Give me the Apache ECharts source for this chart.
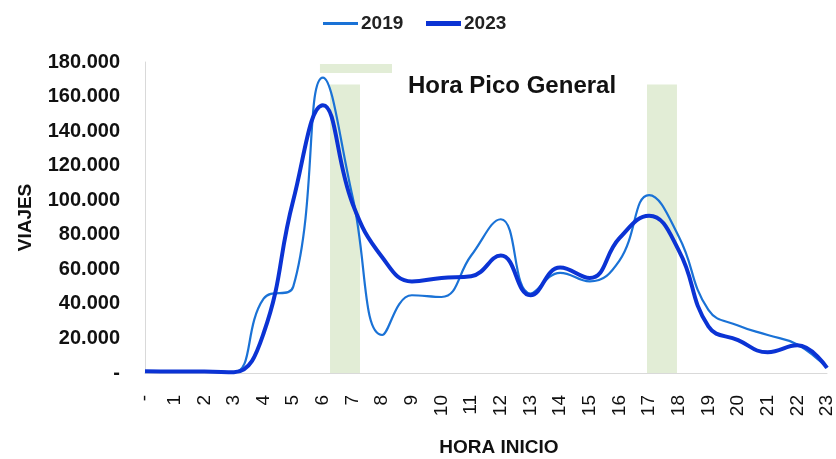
<!DOCTYPE html>
<html lang="es">
<head>
<meta charset="UTF-8">
<title>Viajes por hora</title>
<script src="https://cdn.jsdelivr.net/npm/echarts@6/dist/echarts.min.js"></script>
<style>
  html, body { margin: 0; padding: 0; background: #fff; }
  #main { width: 836px; height: 459px; }
</style>
</head>
<body>
<div id="main"></div>
<script>
// horas 0..23 (la hora 0 se muestra como "-")
var horas = ['0','1','2','3','4','5','6','7','8','9','10','11','12','13','14','15','16','17','18','19','20','21','22','23'];
var viajes2019 = [1000, 1000, 1000, 500, 43000, 50000, 171000, 102000, 22000, 45000, 44000, 68000, 89000, 46000, 58000, 53000, 65000, 103000, 79000, 36500, 27500, 22000, 16500, 3000];
var viajes2023 = [1000, 800, 800, 500, 23000, 100000, 155000, 98000, 67000, 53000, 55000, 56000, 68000, 45000, 61000, 55000, 78000, 91000, 71000, 27000, 19000, 12000, 16000, 3000];
// franjas de hora pico: [desde, hasta, base, techo] en horas / viajes
var franjas = [[6.24, 7.25, 0, 167000], [16.93, 17.94, 0, 167000], [5.9, 8.33, 173600, 178800]];

var fuente = 'Liberation Sans, Arial, sans-serif';
var azul19 = '#1a72d6';
var azul23 = '#0b33d4';
function miles(v) {
  if (v === 0) return '-';
  return String(v).replace(/\B(?=(\d{3})+(?!\d))/g, '.');
}
var textoLeyenda = { fontFamily: fuente, fontSize: 19, fontWeight: 'bold', color: '#222', padding: [0, 0, 0, -2] };

var chart = echarts.init(document.getElementById('main'));
chart.setOption({
  animation: false,
  textStyle: { fontFamily: fuente },
  title: {
    text: 'Hora Pico General',
    left: 403, top: 69,
    textStyle: { fontFamily: fuente, fontSize: 24, fontWeight: 'bold', color: '#111' }
  },
  legend: [{
    top: 9, left: 318,
    icon: 'rect', itemWidth: 35, itemHeight: 3,
    textStyle: textoLeyenda,
    data: ['2019']
  }, {
    top: 9, left: 421,
    icon: 'rect', itemWidth: 35, itemHeight: 5,
    textStyle: textoLeyenda,
    data: ['2023']
  }],
  grid: { left: 145, right: 9, top: 62, bottom: 86, outerBoundsMode: 'none' },
  xAxis: [{
    type: 'category',
    data: horas,
    boundaryGap: false,
    name: 'HORA INICIO',
    nameLocation: 'middle',
    nameGap: 65,
    nameTextStyle: { fontFamily: fuente, fontSize: 19, fontWeight: 'bold', color: '#111', padding: [0, 0, 0, 26] },
    axisLine: { lineStyle: { color: '#d9d9d9', width: 1 } },
    axisTick: { show: false },
    axisLabel: {
      rotate: 90, margin: 22, interval: 0,
      fontSize: 19, color: '#111',
      formatter: function (v) { return v === '0' ? '-' : v; }
    }
  }, {
    type: 'value', min: 0, max: 23, show: false
  }],
  yAxis: {
    type: 'value',
    min: 0, max: 180000, interval: 20000,
    name: 'VIAJES',
    nameLocation: 'middle',
    nameGap: 110,
    nameTextStyle: { fontFamily: fuente, fontSize: 19, fontWeight: 'bold', color: '#111' },
    axisLine: { show: true, lineStyle: { color: '#d9d9d9', width: 1 } },
    axisTick: { show: false },
    splitLine: { show: false },
    axisLabel: {
      margin: 25, fontSize: 20, fontWeight: 'bold', color: '#111',
      formatter: miles
    }
  },
  series: [{
    type: 'custom',
    xAxisIndex: 1,
    silent: true,
    z: 0,
    data: franjas,
    renderItem: function (params, api) {
      var p0 = api.coord([api.value(0), api.value(3)]);
      var p1 = api.coord([api.value(1), api.value(2)]);
      return {
        type: 'rect',
        shape: { x: p0[0], y: p0[1], width: p1[0] - p0[0], height: p1[1] - p0[1] },
        style: { fill: '#e2edd6' }
      };
    }
  }, {
    name: '2019',
    type: 'line',
    data: viajes2019,
    smooth: 0.45,
    symbol: 'none',
    z: 3,
    itemStyle: { color: azul19 },
    lineStyle: { color: azul19, width: 2.2 }
  }, {
    name: '2023',
    type: 'line',
    data: viajes2023,
    smooth: 0.45,
    symbol: 'none',
    z: 4,
    itemStyle: { color: azul23 },
    lineStyle: { color: azul23, width: 4 }
  }]
});
</script>
</body>
</html>
